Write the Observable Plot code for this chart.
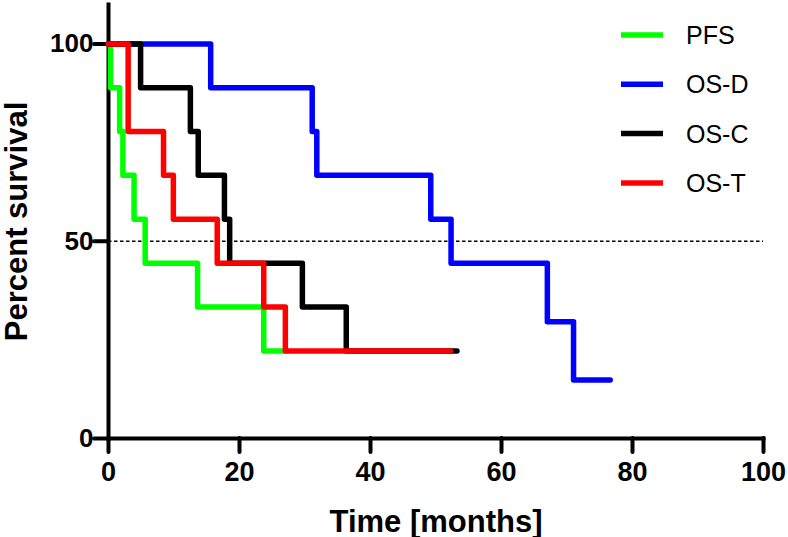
<!DOCTYPE html>
<html><head><meta charset="utf-8">
<script src="https://cdn.jsdelivr.net/npm/d3@7"></script>
<script src="https://cdn.jsdelivr.net/npm/@observablehq/plot@0.6"></script>
<style>
body{margin:0;background:#fff;}
#wrap{position:relative;width:788px;height:537px;}
#legend{position:absolute;left:0;top:0;}
#wrap svg{overflow:visible;}
[aria-label="x-axis label"] text,[aria-label="y-axis label"] text{font-size:31px;}
</style></head><body><div id="wrap"></div>
<script>
const seriesNames = ["PFS", "OS-D", "OS-C", "OS-T"];
const seriesColors = ["#00ff00", "#0000ff", "#000000", "#ff0000"];

const pfsTime = [0, 0.3, 1.7, 2.2, 3.9, 5.6, 13.6, 23.7, 27];
const pfsSurv = [100, 88.9, 77.8, 66.7, 55.6, 44.4, 33.3, 22.2, 22.2];

const osdTime = [0, 15.6, 31.1, 31.8, 49.2, 52.3, 67.0, 71.0, 76.6];
const osdSurv = [100, 88.9, 77.8, 66.7, 55.6, 44.4, 29.6, 14.8, 14.8];

const oscTime = [0, 4.9, 12.5, 13.7, 17.7, 18.5, 29.6, 36.3, 53.2];
const oscSurv = [100, 88.9, 77.8, 66.7, 55.6, 44.4, 33.3, 22.2, 22.2];

const ostTime = [0, 3.0, 8.4, 9.9, 16.6, 23.7, 27.0, 52.2];
const ostSurv = [100, 77.8, 66.7, 55.6, 44.4, 33.3, 22.2, 22.2];

const xTicks = [0, 20, 40, 60, 80, 100];
const yTicks = [0, 50, 100];
const medianLine = [50];

const series = [
  {name: seriesNames[0], time: pfsTime, surv: pfsSurv},
  {name: seriesNames[1], time: osdTime, surv: osdSurv},
  {name: seriesNames[2], time: oscTime, surv: oscSurv},
  {name: seriesNames[3], time: ostTime, surv: ostSurv}
];
const rows = series.flatMap(s => s.time.map((t, i) => ({series: s.name, time: t, surv: s.surv[i]})));

const font = "'Liberation Sans', Arial, sans-serif";

const chart = Plot.plot({
  width: 788,
  height: 537,
  marginLeft: 108,
  marginRight: 25,
  marginTop: 4,
  marginBottom: 99,
  style: {fontFamily: font, background: "#fff", color: "#000"},
  x: {domain: [0, 100]},
  y: {domain: [0, 110]},
  color: {domain: seriesNames, range: seriesColors},
  marks: [
    Plot.ruleY(medianLine, {stroke: "#000", strokeWidth: 1.6, strokeDasharray: "3.5,2.5"}),
    Plot.frame({anchor: "left", strokeWidth: 4}),
    Plot.frame({anchor: "bottom", strokeWidth: 4}),
    Plot.axisX({ticks: xTicks, tickSize: 14, tickPadding: 9, strokeWidth: 4, strokeLinecap: "round",
      fontSize: 27, fontWeight: "bold", label: "Time [months]", labelAnchor: "center", labelArrow: "none", labelOffset: 93}),
    Plot.axisY({ticks: yTicks, tickSize: 14, tickPadding: 1, strokeWidth: 4, strokeLinecap: "round",
      fontSize: 26, fontWeight: "bold", label: "Percent survival", labelAnchor: "center", labelArrow: "none", labelOffset: 104}),
    Plot.line(rows, {x: "time", y: "surv", z: "series", stroke: "series", curve: "step-after",
      strokeWidth: 5.5, strokeLinecap: "round", strokeLinejoin: "round"})
  ]
});

const wrap = document.getElementById("wrap");
wrap.appendChild(chart);

// legend overlay
const ns = "http://www.w3.org/2000/svg";
const leg = document.createElementNS(ns, "svg");
leg.setAttribute("id", "legend");
leg.setAttribute("width", 788);
leg.setAttribute("height", 537);
seriesNames.forEach((name, i) => {
  const y = 35 + i * 49.3;
  const ln = document.createElementNS(ns, "line");
  ln.setAttribute("x1", 621); ln.setAttribute("x2", 663);
  ln.setAttribute("y1", y); ln.setAttribute("y2", y);
  ln.setAttribute("stroke", seriesColors[i]); ln.setAttribute("stroke-width", 5.5);
  leg.appendChild(ln);
  const tx = document.createElementNS(ns, "text");
  tx.setAttribute("x", 686); tx.setAttribute("y", y + 9);
  tx.setAttribute("font-family", font);
  tx.setAttribute("font-size", 25);
  tx.textContent = name;
  leg.appendChild(tx);
});
wrap.appendChild(leg);
</script>
</body></html>
